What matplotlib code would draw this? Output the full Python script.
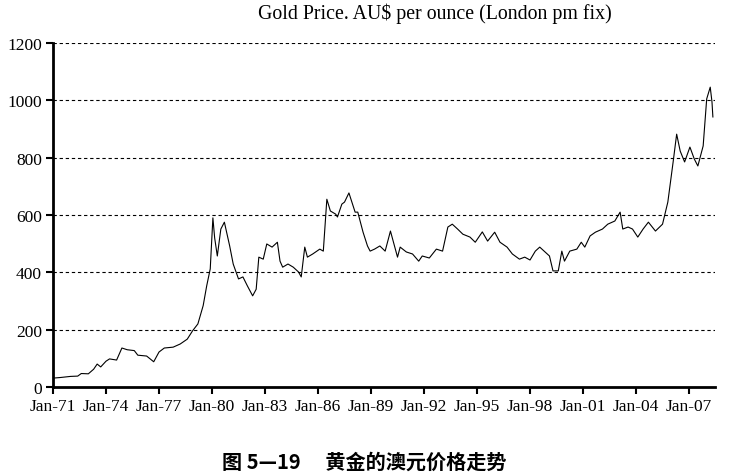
import matplotlib.pyplot as plt

# decimal year and AU$ price
years = [1971.0, 1971.4, 1971.7, 1972.0, 1972.4, 1972.6, 1973.0, 1973.3, 1973.5, 1973.7,
         1974.0, 1974.2, 1974.6, 1974.9, 1975.2, 1975.6, 1975.8, 1976.3, 1976.7, 1977.0,
         1977.3, 1977.8, 1978.2, 1978.6, 1978.9, 1979.2, 1979.5, 1979.7, 1979.9, 1980.05,
         1980.15, 1980.3, 1980.5, 1980.7, 1981.0, 1981.2, 1981.5, 1981.75, 1982.0, 1982.3,
         1982.5, 1982.65, 1982.9, 1983.1, 1983.4, 1983.7, 1983.85, 1984.0, 1984.3, 1984.6,
         1984.9, 1985.05, 1985.25, 1985.4, 1985.7, 1986.1, 1986.3, 1986.5, 1986.7, 1987.0,
         1987.1, 1987.35, 1987.5, 1987.75, 1988.1, 1988.25, 1988.55, 1988.8, 1988.95, 1989.2,
         1989.5, 1989.8, 1990.1, 1990.5, 1990.65, 1991.0, 1991.35, 1991.7, 1991.9, 1992.3,
         1992.7, 1993.05, 1993.35, 1993.6, 1993.9, 1994.2, 1994.6, 1994.9, 1995.3, 1995.6,
         1996.0, 1996.3, 1996.7, 1997.0, 1997.4, 1997.7, 1998.0, 1998.3, 1998.55, 1998.85,
         1999.1, 1999.3, 1999.6, 1999.8, 1999.95, 2000.25, 2000.65, 2000.9, 2001.1, 2001.4,
         2001.7, 2002.1, 2002.4, 2002.8, 2003.1, 2003.25, 2003.55, 2003.8, 2004.1, 2004.4,
         2004.7, 2005.1, 2005.5, 2005.8, 2006.1, 2006.3, 2006.5, 2006.75, 2007.05, 2007.3,
         2007.5, 2007.8, 2008.0, 2008.2, 2008.3, 2008.35]
price = [31, 33, 35, 37, 38, 47, 46, 62, 80, 70,
         90, 98, 94, 136, 130, 127, 111, 108, 88, 122,
         136, 139, 150, 167, 196, 220, 284, 353, 412, 590,
         520, 457, 551, 575, 492, 429, 377, 384, 353, 318,
         341, 453, 446, 499, 488, 505, 439, 418, 429, 418,
         401, 384, 488, 453, 464, 481, 474, 655, 614, 603,
         593, 638, 645, 677, 610, 610, 540, 492, 474, 481,
         492, 474, 544, 453, 488, 471, 464, 439, 457, 450,
         481, 474, 558, 568, 551, 533, 523, 505, 541, 509,
         540, 505, 488, 464, 446, 453, 443, 474, 488, 471,
         457, 405, 405, 474, 439, 474, 481, 505, 488, 527,
         540, 551, 568, 579, 610, 551, 558, 551, 523, 551,
         575, 544, 568, 645, 785, 882, 823, 785, 837, 795,
         771, 841, 1005, 1046, 994, 942]

tick_years = [1971, 1974, 1977, 1980, 1983, 1986, 1989, 1992, 1995, 1998, 2001, 2004, 2007]
tick_labels = ['Jan-71', 'Jan-74', 'Jan-77', 'Jan-80', 'Jan-83', 'Jan-86', 'Jan-89',
               'Jan-92', 'Jan-95', 'Jan-98', 'Jan-01', 'Jan-04', 'Jan-07']
y_ticks = [0, 200, 400, 600, 800, 1000, 1200]

serif = 'Liberation Serif'

fig = plt.figure(figsize=(7.29, 4.77), dpi=100)
ax = fig.add_axes([53 / 729, 89 / 477, 662 / 729, 344 / 477])

ax.plot(years, price, color='black', lw=0.8)

for v in y_ticks[1:]:
    ax.axhline(v, color='black', lw=0.8, ls=(0, (3, 2.5)), zorder=0)

ax.set_xlim(1971, 2008.47)
ax.set_ylim(0, 1200)
ax.set_xticks(tick_years)
ax.set_xticklabels(tick_labels)
ax.set_yticks(y_ticks)

for s in ['top', 'right']:
    ax.spines[s].set_visible(False)
ax.spines['left'].set_linewidth(2)
ax.spines['bottom'].set_linewidth(2)
ax.tick_params(axis='both', direction='out', length=5, width=1.5, colors='black', pad=3)
for lab in ax.get_xticklabels() + ax.get_yticklabels():
    lab.set_fontfamily(serif)
    lab.set_fontsize(12.5)

fig.text(435 / 729, 1 - 14 / 477, 'Gold Price. AU$ per ounce (London pm fix)',
         ha='center', va='center', fontsize=14.3, family=serif)
fig.text(364 / 729, 1 - 462 / 477, '图 5—19\u3000 黄金的澳元价格走势',
         ha='center', va='center', fontsize=14.5, fontweight='bold',
         family=['Noto Sans CJK SC', 'DejaVu Sans'])

fig.savefig('out.png', dpi=100)
